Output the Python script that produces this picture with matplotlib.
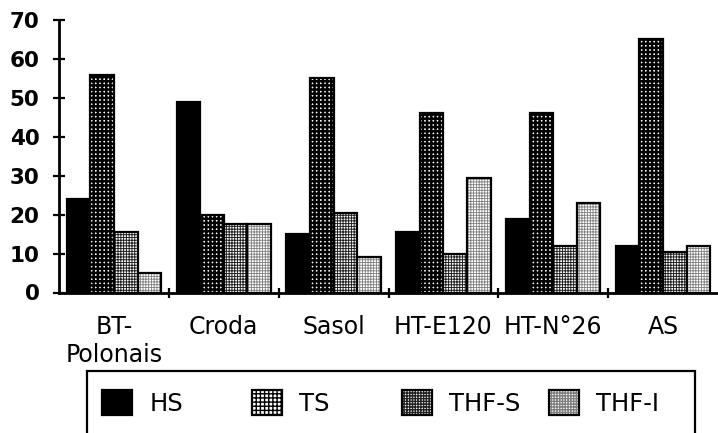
import matplotlib
matplotlib.use("Agg")
import matplotlib.pyplot as plt
import numpy as np
from matplotlib.patches import Rectangle
from matplotlib.legend_handler import HandlerTuple

categories = ["BT-\nPolonais", "Croda", "Sasol", "HT-E120", "HT-N°26", "AS"]
series_names = ["HS", "TS", "THF-S", "THF-I"]
hs = [24, 49, 15, 15.5, 19, 12]
ts = [56, 20, 55, 46, 46, 65]
thf_s = [15.5, 17.5, 20.5, 10, 12, 10.5]
thf_i = [5, 17.5, 9, 29.5, 23, 12]
yticks = [0, 10, 20, 30, 40, 50, 60, 70]

W, H = 718, 433
fig = plt.figure(figsize=(W / 100, H / 100), dpi=100)
ax = fig.add_axes([59 / W, (H - 292.5) / H, (W - 59) / W, (292.5 - 20) / H])

styles = [
    dict(facecolor="black", edgecolor="black", hatch=None, hlw=1.0),
    dict(facecolor="white", edgecolor="black", hatch="++++", hlw=1.8),
    dict(facecolor="white", edgecolor="#222222", hatch="++++++", hlw=0.7),
    dict(facecolor="white", edgecolor="#808080", hatch="++++++", hlw=0.6),
]

x = np.arange(len(categories)) + 0.5
bw = 0.215
handles = []
for k, (vals, st) in enumerate(zip([hs, ts, thf_s, thf_i], styles)):
    pos = x + (k - 1.5) * bw
    st = dict(st)
    hlw = st.pop("hlw")
    with plt.rc_context({"hatch.linewidth": hlw}):
        fill = ax.bar(pos, vals, width=bw, linewidth=0, **st)
    for p in fill.patches:
        if hasattr(p, "set_hatch_linewidth"):
            p.set_hatch_linewidth(hlw)
    outline = ax.bar(pos, vals, width=bw, fill=False, edgecolor="black", linewidth=1.6)
    handles.append((fill, outline))

ax.set_xlim(0, len(categories))
ax.set_ylim(0, 70)
ax.set_yticks(yticks)
ax.set_yticklabels([str(v) for v in yticks], fontsize=15.5, fontweight="bold",
                   family="DejaVu Sans")
ax.set_xticks(x)
ax.set_xticklabels(categories, fontsize=17, family="DejaVu Sans", linespacing=1.25)
ax.set_xticks(np.arange(1, len(categories)), minor=True)
ax.tick_params(axis="x", which="major", length=0, pad=16)
ax.tick_params(axis="x", which="minor", length=7, width=1.6, direction="inout")
ax.tick_params(axis="y", which="major", length=8, width=1.6, direction="inout", pad=10)
for s in ["top", "right"]:
    ax.spines[s].set_visible(False)
for s in ["left", "bottom"]:
    ax.spines[s].set_linewidth(2)

# legend frame (cut off by the image bottom)
fig.add_artist(Rectangle((87 / W, -0.2), (695 - 87) / W, 0.2 + (H - 371) / H,
                         transform=fig.transFigure, fill=False, edgecolor="black",
                         linewidth=1.6))

leg_x = [102, 252, 402, 549]
for name, h, lx in zip(series_names, handles, leg_x):
    fig.legend(handles=[h], labels=[name], loc="center left",
               bbox_to_anchor=(lx / W, (H - 403) / H), frameon=False,
               borderpad=0, borderaxespad=0, handlelength=1.25, handleheight=1.2,
               handletextpad=0.7,
               handler_map={tuple: HandlerTuple(ndivide=1)},
               prop=dict(family="DejaVu Sans", size=17.5))

fig.savefig("out.png", dpi=100)
